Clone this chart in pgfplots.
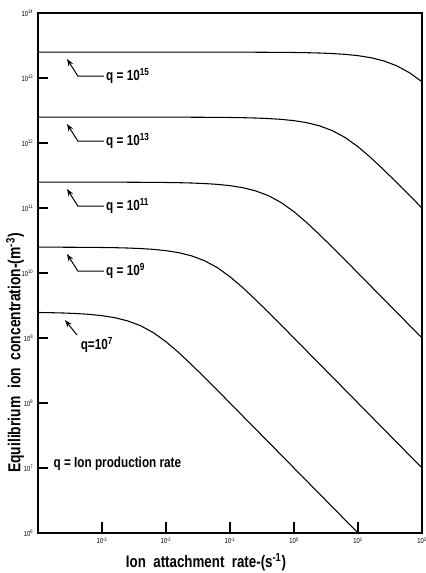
\documentclass[border=0pt]{standalone}
\usepackage{pgfplots}
\pgfplotsset{compat=1.18}
\usepackage{fontspec}
\setmainfont{Liberation Sans}
\newfontfamily\cond{Liberation Sans}[FakeStretch=0.8]
\usetikzlibrary{arrows.meta}
\begin{document}
\begin{tikzpicture}
\begin{axis}[
  xmode=log, ymode=log, log basis x=10, log basis y=10,
  scale only axis, width=288pt, height=390pt,
  xmin=1e-4, xmax=1e2, ymin=1e6, ymax=1e14,
  xtick={1e-3,1e-2,1e-1,1,10,100},
  xticklabels={10\textsuperscript{-3},10\textsuperscript{-2},10\textsuperscript{-1},10\textsuperscript{0},10\textsuperscript{1},10\textsuperscript{2}},
  ytick={1e6,1e7,1e8,1e9,1e10,1e11,1e12,1e13,1e14},
  yticklabels={10\textsuperscript{6},10\textsuperscript{7},10\textsuperscript{8},10\textsuperscript{9},10\textsuperscript{10},10\textsuperscript{11},10\textsuperscript{12},10\textsuperscript{13},10\textsuperscript{14}},
  tick align=inside, xtick pos=left, ytick pos=left,
  major tick length=7pt,
  tick style={black, line width=1.2pt},
  axis line style={line width=1.2pt},
  tick label style={font=\cond\fontsize{5.5}{6}\selectfont},
]
% q = 1e7
\addplot[black, line width=0.8pt] coordinates {(1e-4,2.4690e9) (1.5849e-4,2.4510e9) (2.5119e-4,2.4227e9) (3.9811e-4,2.3787e9) (6.3096e-4,2.3106e9) (1e-3,2.2070e9) (1.5849e-3,2.0533e9) (2.5119e-3,1.8353e9) (3.9811e-3,1.5483e9) (6.3096e-3,1.2122e9) (1e-2,8.7688e8) (1.5849e-2,5.9513e8) (2.5119e-2,3.8844e8) (3.9811e-2,2.4867e8) (6.3096e-2,1.5783e8) (0.1,9.9828e7) (1,1e7) (10,1e6)};
% q = 1e9
\addplot[black, line width=0.8pt] coordinates {(1e-4,2.4969e10) (2.5119e-4,2.4922e10) (6.3096e-4,2.4804e10) (1e-3,2.4690e10) (1.5849e-3,2.4510e10) (2.5119e-3,2.4227e10) (3.9811e-3,2.3787e10) (6.3096e-3,2.3106e10) (1e-2,2.2070e10) (1.5849e-2,2.0533e10) (2.5119e-2,1.8353e10) (3.9811e-2,1.5483e10) (6.3096e-2,1.2122e10) (0.1,8.7688e9) (0.15849,5.9513e9) (0.25119,3.8844e9) (0.39811,2.4867e9) (0.63096,1.5783e9) (1,9.9828e8) (10,1e8) (100,1e7)};
% q = 1e11
\addplot[black, line width=0.8pt] coordinates {(1e-4,2.5e11) (1e-3,2.4969e11) (2.5119e-3,2.4922e11) (6.3096e-3,2.4804e11) (1e-2,2.4690e11) (1.5849e-2,2.4510e11) (2.5119e-2,2.4227e11) (3.9811e-2,2.3787e11) (6.3096e-2,2.3106e11) (0.1,2.2070e11) (0.15849,2.0533e11) (0.25119,1.8353e11) (0.39811,1.5483e11) (0.63096,1.2122e11) (1,8.7688e10) (1.5849,5.9513e10) (2.5119,3.8844e10) (3.9811,2.4867e10) (6.3096,1.5783e10) (10,9.9828e9) (100,1e9)};
% q = 1e13
\addplot[black, line width=0.8pt] coordinates {(1e-4,2.5e12) (1e-2,2.4969e12) (2.5119e-2,2.4922e12) (6.3096e-2,2.4804e12) (0.1,2.4690e12) (0.15849,2.4510e12) (0.25119,2.4227e12) (0.39811,2.3787e12) (0.63096,2.3106e12) (1,2.2070e12) (1.5849,2.0533e12) (2.5119,1.8353e12) (3.9811,1.5483e12) (6.3096,1.2122e12) (10,8.7688e11) (15.849,5.9513e11) (25.119,3.8844e11) (39.811,2.4867e11) (63.096,1.5783e11) (100,9.9828e10)};
% q = 1e15
\addplot[black, line width=0.8pt] coordinates {(1e-4,2.5e13) (0.1,2.4969e13) (0.25119,2.4922e13) (0.63096,2.4804e13) (1,2.4690e13) (1.5849,2.4510e13) (2.5119,2.4227e13) (3.9811,2.3787e13) (6.3096,2.3106e13) (10,2.2070e13) (15.849,2.0533e13) (25.119,1.8353e13) (39.811,1.5483e13) (63.096,1.2122e13) (100,8.7688e12)};

% annotations
\foreach \e/\ty/\by in {15/1.96e13/1.07e13, 13/1.96e12/1.07e12, 11/1.96e11/1.07e11, 9/1.96e10/1.07e10}{
  \edef\temp{\noexpand\draw[line width=0.75pt, -{Stealth[length=5.5pt,width=4pt]}] (axis cs:1.07e-3,\by) -- (axis cs:4.2e-4,\by) -- (axis cs:2.84e-4,\ty);
  \noexpand\node[anchor=west, inner sep=1pt, font=\noexpand\cond\noexpand\bfseries\noexpand\fontsize{11}{12}\noexpand\selectfont] at (axis cs:1.1e-3,\by) {q = 10\noexpand\textsuperscript{\e}};}
  \temp
}
\draw[line width=0.75pt, -{Stealth[length=5.5pt,width=4pt]}] (axis cs:4.07e-4,1.11e9) -- (axis cs:2.64e-4,1.89e9);
\node[anchor=west, inner sep=1pt, font=\cond\bfseries\fontsize{11}{12}\selectfont] at (axis cs:4.4e-4,7.8e8) {q=10\textsuperscript{7}};
\node[anchor=west, inner sep=1pt, font=\cond\bfseries\fontsize{11}{12}\selectfont] at (axis cs:1.66e-4,1.15e7) {q = Ion production rate};
\end{axis}
% tick marks as thin filled bars, positioned from the axis frame (decade = 48pt in x, 48.75pt in y)
\foreach \k in {1,...,7}{
  \fill[black] ([yshift=\k*48.75pt-0.7pt]current axis.south west) rectangle ++(7.5pt,1.4pt);
}
\foreach \k in {1,...,5}{
  \fill[black] ([xshift=\k*48pt-0.7pt]current axis.south west) rectangle ++(1.4pt,8pt);
}
\node[rotate=90, font=\cond\bfseries\fontsize{13}{15}\selectfont] at ([xshift=-17.25pt, yshift=-60pt]current axis.west) {Equilibrium\ \ ion\ \ concentration-(m\textsuperscript{-3})};
\node[font=\cond\bfseries\fontsize{12.5}{14}\selectfont] at ([xshift=-18pt, yshift=-21.75pt]current axis.south) {Ion\ \ attachment\ \ rate-(s\textsuperscript{-1})};
\pgfresetboundingbox
\useasboundingbox ([shift={(-28.5pt,-30pt)}]current axis.south west) rectangle ([shift={(3pt,9.75pt)}]current axis.north east);
\end{tikzpicture}
\end{document}
